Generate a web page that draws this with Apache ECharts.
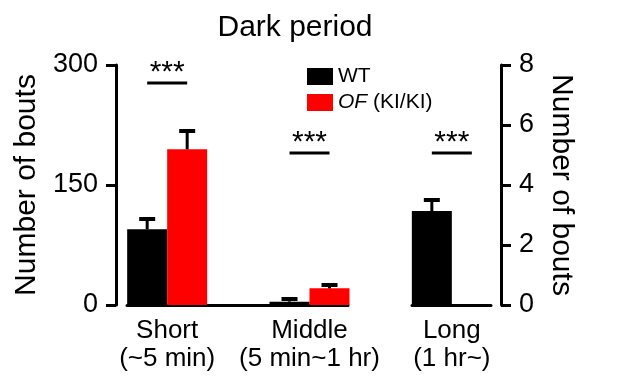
<!DOCTYPE html>
<html>
<head>
<meta charset="utf-8">
<script src="https://cdn.jsdelivr.net/npm/echarts@6/dist/echarts.min.js"></script>
<style>
  html, body { margin: 0; padding: 0; background: #fff; }
  #D3_Dark_Bouts { width: 617px; height: 388px; }
</style>
</head>
<body>
<div id="D3_Dark_Bouts"></div>
<script>
// D3_Dark_Bouts
var categories = ['Short\n(~5 min)', 'Middle\n(5 min~1 hr)', 'Long\n(1 hr~)'];
var leftTicks = [0, 150, 300];
var rightTicks = [0, 2, 4, 6, 8];

// Short + Middle on the left axis, Long on the right axis
var wtMean = [94.6, 4.2, '-'];
var wtSem = [12.9, 3.3, '-'];
var ofMean = [194.6, 20.8, '-'];
var ofSem = [22.9, 4.2, '-'];
var wtLongMean = ['-', '-', 3.13];
var wtLongSem = ['-', '-', 0.37];
var ofLongMean = ['-', '-', 0];

// significance bars: [category index, height]
var sigLeft = [[0, 277.5], [1, 190]];
var sigRight = [[2, 5.07]];

var FONT = '"Liberation Sans", Arial, sans-serif';

function errData(mean, sem) {
    var out = [];
    for (var i = 0; i < mean.length; i++) {
        if (mean[i] === '-' || sem[i] === '-') continue;
        out.push([i, mean[i], mean[i] + sem[i]]);
    }
    return out;
}

function errRender(dx) {
    return function (params, api) {
        var p0 = api.coord([api.value(0), api.value(1)]);
        var p1 = api.coord([api.value(0), api.value(2)]);
        var x = p0[0] + dx;
        return {
            type: 'group',
            children: [
                { type: 'line', shape: { x1: x, y1: p0[1], x2: x, y2: p1[1] }, style: { stroke: '#000', lineWidth: 3 } },
                { type: 'line', shape: { x1: x - 8, y1: p1[1], x2: x + 8, y2: p1[1] }, style: { stroke: '#000', lineWidth: 4 } }
            ]
        };
    };
}

function sigMarks(list) {
    return {
        symbol: 'rect',
        symbolSize: [40, 3],
        itemStyle: { color: '#000' },
        label: {
            show: true, position: 'top', distance: -6, formatter: '***',
            color: '#000', fontSize: 30, fontFamily: FONT
        },
        data: list.map(function (d) { return { coord: d }; })
    };
}

var dom = document.getElementById('D3_Dark_Bouts');
var myChart_D3_Dark_Bouts = echarts.init(dom);

var axisBlack = { lineStyle: { color: '#000', width: 3 } };

var option = {
    animation: false,
    title: {
        text: 'Dark period',
        left: 290,
        textAlign: 'center',
        top: 8,
        textStyle: { fontFamily: FONT, fontSize: 30, fontWeight: 'normal', color: '#000' }
    },
    legend: {
        data: ['WT', 'OF'],
        orient: 'vertical',
        left: 302,
        top: 61,
        icon: 'rect',
        itemWidth: 26,
        itemHeight: 17,
        itemGap: 5,
        formatter: function (name) { return name === 'OF' ? '{i|OF} (KI/KI)' : name; },
        textStyle: {
            fontFamily: FONT, fontSize: 21, color: '#000',
            rich: { i: { fontStyle: 'italic', fontFamily: FONT, fontSize: 21, color: '#000' } }
        }
    },
    grid: [
        { left: 96, right: 94, top: 65, bottom: 83 },
        { left: 127, right: 269, top: 65, bottom: 83 },
        { left: 412, right: 126, top: 65, bottom: 83 }
    ],
    xAxis: [
        {
            type: 'category', gridIndex: 0, data: categories,
            axisLine: { show: false }, axisTick: { show: false },
            axisLabel: { interval: 0, hideOverlap: false, color: '#000', fontFamily: FONT, fontSize: 26, lineHeight: 28, margin: 12 }
        },
        { type: 'category', gridIndex: 0, data: categories, show: false },
        { type: 'category', gridIndex: 1, data: [''], axisLine: axisBlack, axisTick: { show: false }, axisLabel: { show: false } },
        { type: 'category', gridIndex: 2, data: [''], axisLine: axisBlack, axisTick: { show: false }, axisLabel: { show: false } }
    ],
    yAxis: [
        {
            type: 'value', gridIndex: 0, position: 'left', offset: -20,
            min: leftTicks[0], max: leftTicks[leftTicks.length - 1], interval: 150,
            axisLine: { show: true, lineStyle: { color: '#000', width: 3 } },
            axisTick: { show: true, length: 10, lineStyle: { color: '#000', width: 3 } },
            splitLine: { show: false },
            axisLabel: { color: '#000', fontFamily: FONT, fontSize: 27, margin: 18 },
            name: 'Number of bouts', nameLocation: 'middle', nameRotate: 90, nameGap: 72,
            nameTextStyle: { color: '#000', fontFamily: FONT, fontSize: 30 }
        },
        {
            type: 'value', gridIndex: 0, position: 'right', offset: -22,
            min: rightTicks[0], max: rightTicks[rightTicks.length - 1], interval: 2,
            axisLine: { show: true, lineStyle: { color: '#000', width: 3 } },
            axisTick: { show: true, length: 10, lineStyle: { color: '#000', width: 3 } },
            splitLine: { show: false },
            axisLabel: { color: '#000', fontFamily: FONT, fontSize: 27, margin: 18 },
            name: 'Number of bouts', nameLocation: 'middle', nameRotate: -90, nameGap: 45,
            nameTextStyle: { color: '#000', fontFamily: FONT, fontSize: 30 }
        },
        { type: 'value', gridIndex: 1, min: 0, max: 1, show: false },
        { type: 'value', gridIndex: 2, min: 0, max: 1, show: false }
    ],
    series: [
        {
            name: 'WT', type: 'bar', xAxisIndex: 0, yAxisIndex: 0,
            barWidth: 40, barGap: '0%', itemStyle: { color: '#000' },
            data: wtMean
        },
        {
            name: 'OF', type: 'bar', xAxisIndex: 0, yAxisIndex: 0,
            barWidth: 40, barGap: '0%', itemStyle: { color: '#ff0000' },
            data: ofMean
        },
        {
            name: 'WT', type: 'bar', xAxisIndex: 1, yAxisIndex: 1,
            barWidth: 40, barGap: '0%', itemStyle: { color: '#000' },
            data: wtLongMean
        },
        {
            name: 'OF', type: 'bar', xAxisIndex: 1, yAxisIndex: 1,
            barWidth: 40, barGap: '0%', itemStyle: { color: '#ff0000' },
            data: ofLongMean
        },
        {
            name: 'errWT', type: 'custom', xAxisIndex: 0, yAxisIndex: 0, z: 3,
            renderItem: errRender(-20), data: errData(wtMean, wtSem),
            markPoint: sigMarks(sigLeft)
        },
        {
            name: 'errOF', type: 'custom', xAxisIndex: 0, yAxisIndex: 0, z: 3,
            renderItem: errRender(20), data: errData(ofMean, ofSem)
        },
        {
            name: 'errWTLong', type: 'custom', xAxisIndex: 1, yAxisIndex: 1, z: 3,
            renderItem: errRender(-20), data: errData(wtLongMean, wtLongSem),
            markPoint: sigMarks(sigRight)
        }
    ]
};

if (option && typeof option === 'object') {
    myChart_D3_Dark_Bouts.setOption(option);
}
</script>
</body>
</html>
